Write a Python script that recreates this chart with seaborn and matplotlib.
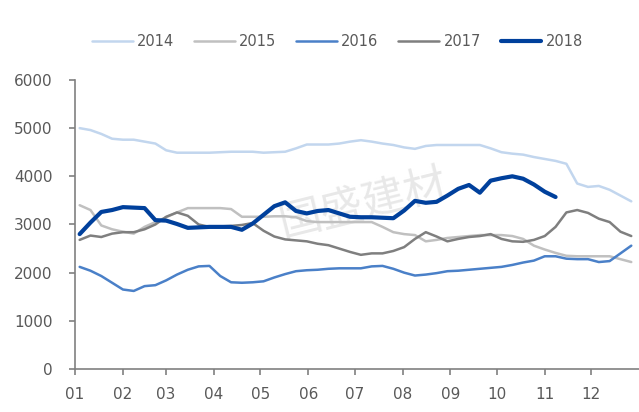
import numpy as np
import pandas as pd
import seaborn as sns
import matplotlib.pyplot as plt

# weekly values
v2014 = [5000, 4960, 4880, 4780, 4760, 4760, 4720, 4680, 4540, 4490, 4490, 4490, 4490,
         4500, 4510, 4510, 4510, 4490, 4500, 4510, 4580, 4660, 4660, 4660, 4680, 4720,
         4750, 4720, 4680, 4650, 4600, 4570, 4630, 4650, 4650, 4650, 4650, 4650, 4580,
         4500, 4470, 4450, 4400, 4360, 4320, 4260, 3850, 3780, 3800, 3720, 3600, 3480]
v2015 = [3400, 3300, 2980, 2900, 2850, 2810, 2950, 3050, 3150, 3250, 3340, 3340, 3340,
         3340, 3320, 3160, 3160, 3160, 3170, 3170, 3150, 3070, 3050, 3050, 3050, 3050,
         3050, 3050, 2950, 2840, 2800, 2780, 2650, 2680, 2720, 2740, 2760, 2780, 2780,
         2780, 2760, 2700, 2560, 2480, 2410, 2350, 2340, 2340, 2340, 2340, 2280, 2220]
v2016 = [2120, 2040, 1930, 1790, 1650, 1620, 1720, 1740, 1840, 1960, 2060, 2130, 2140,
         1930, 1800, 1790, 1800, 1820, 1900, 1970, 2030, 2050, 2060, 2080, 2090, 2090,
         2090, 2130, 2140, 2080, 2000, 1940, 1960, 1990, 2030, 2040, 2060, 2080, 2100,
         2120, 2160, 2210, 2250, 2340, 2340, 2290, 2280, 2280, 2220, 2240, 2400, 2560]
v2017 = [2680, 2770, 2740, 2810, 2840, 2840, 2900, 3000, 3160, 3250, 3180, 3000, 2950,
         2960, 2970, 2990, 3030, 2870, 2750, 2690, 2670, 2650, 2600, 2570, 2500, 2430,
         2370, 2400, 2400, 2450, 2530, 2700, 2840, 2750, 2650, 2700, 2740, 2760, 2800,
         2700, 2650, 2640, 2680, 2760, 2950, 3250, 3300, 3240, 3120, 3050, 2850, 2760]
v2018 = [2800, 3040, 3260, 3300, 3360, 3350, 3340, 3090, 3080, 3010, 2930, 2940, 2950,
         2950, 2950, 2890, 3020, 3200, 3380, 3460, 3280, 3230, 3280, 3300, 3230, 3160,
         3150, 3150, 3140, 3130, 3290, 3490, 3450, 3470, 3600, 3740, 3820, 3660, 3910,
         3960, 4000, 3950, 3830, 3680, 3570]

years = ["2014", "2015", "2016", "2017", "2018"]
series = [v2014, v2015, v2016, v2017, v2018]
colors = ["#C2D6EE", "#C0C0C0", "#4A80C8", "#7F7F7F", "#00409C"]
widths = [1.8, 1.8, 1.8, 1.8, 3.0]

month_labels = ["01", "02", "03", "04", "05", "06", "07", "08", "09", "10", "11", "12"]
month_starts = [0, 31, 59, 90, 120, 151, 181, 212, 243, 273, 304, 334]

rows = []
for y, vals in zip(years, series):
    for i, v in enumerate(vals):
        rows.append({"day": 7 * i + 3, "value": v, "year": y})
df = pd.DataFrame(rows)

sns.set_style("white")
plt.rcParams['font.family'] = ['Liberation Sans Narrow', 'DejaVu Sans']

fig = plt.figure(figsize=(6.39, 4.12), dpi=100)
ax = fig.add_axes([0.1174, 0.1044, 0.8826, 0.7015])

for y, c, w in zip(years, colors, widths):
    sns.lineplot(data=df[df["year"] == y], x="day", y="value", color=c,
                 linewidth=w, label=y, ax=ax)

ax.set_xlim(0, 365)
ax.set_ylim(0, 6000)
ax.set_xticks(month_starts)
ax.set_xticklabels(month_labels)
ax.set_yticks(range(0, 6001, 1000))
ax.set_xlabel("")
ax.set_ylabel("")

for s in ["top", "right"]:
    ax.spines[s].set_visible(False)
for s in ["left", "bottom"]:
    ax.spines[s].set_color("#808080")
    ax.spines[s].set_linewidth(1.2)
ax.tick_params(axis="both", direction="out", length=4, width=1.2, color="#808080",
               labelcolor="#595959", labelsize=11)
ax.tick_params(axis="y", left=True, pad=12)
ax.tick_params(axis="x", bottom=True, pad=9)

# watermark, behind the lines
ax.text(0.51, 0.57, "国盛建材", transform=ax.transAxes, fontsize=31, rotation=14,
        color="#E4E4E4", alpha=0.85, ha="center", va="center", zorder=0,
        family=["Noto Sans CJK SC", "DejaVu Sans"])

ax.get_legend().remove()
handles, labels = ax.get_legend_handles_labels()
fig.legend(handles, labels, loc="center", bbox_to_anchor=(0.528, 0.9), ncol=5,
           frameon=False, fontsize=10.5, handlelength=2.8, handletextpad=0.3,
           columnspacing=1.35, labelcolor="#595959")

fig.savefig("out.png", dpi=100)
